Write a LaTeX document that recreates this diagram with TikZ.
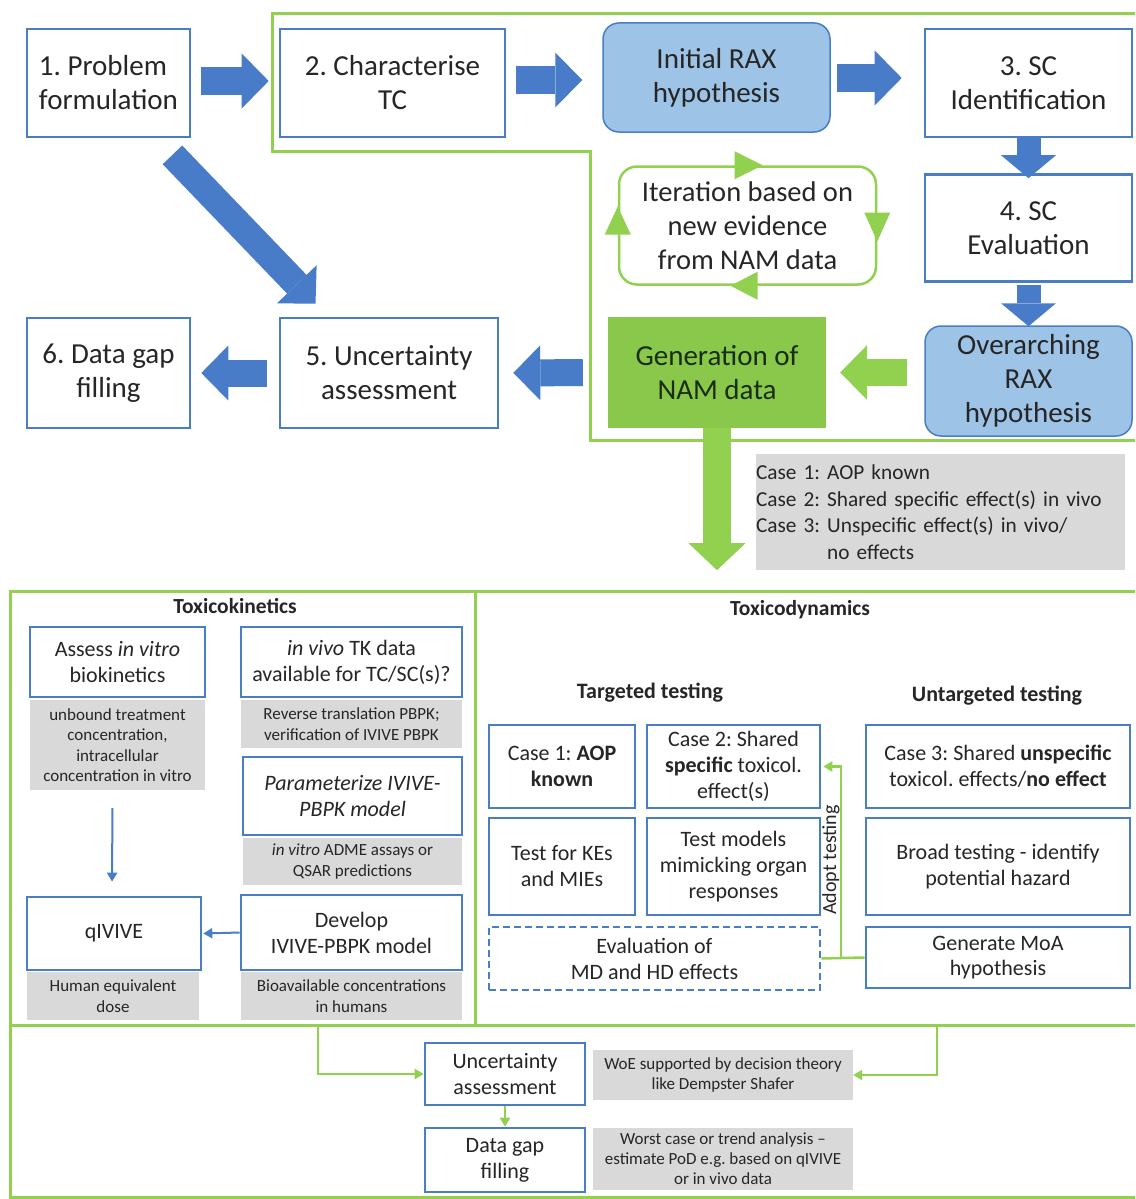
\documentclass[tikz,border=0pt]{standalone}
\usepackage{fontspec}
\setmainfont{Carlito}
\usetikzlibrary{arrows.meta,calc}
\definecolor{bblue}{RGB}{74,126,196}
\definecolor{ablue}{RGB}{72,124,200}
\definecolor{lblue}{RGB}{157,195,230}
\definecolor{gr}{RGB}{146,208,80}
\definecolor{namg}{RGB}{137,200,75}
\definecolor{greyf}{RGB}{217,217,217}
\definecolor{txt}{RGB}{38,38,38}
\frenchspacing
\begin{document}
\begin{tikzpicture}[x=1pt,y=-1pt,
  every node/.style={inner sep=0pt, align=center, text=txt},
  bx/.style={draw=bblue, line width=2.6pt, fill=white},
  bxd/.style={bx, dashed, dash pattern=on 7pt off 4pt},
  big/.style={font=\fontsize{29}{34}\selectfont},
  mid/.style={font=\fontsize{22}{26}\selectfont},
  sm/.style={font=\fontsize{17}{20.5}\selectfont},
  tiny/.style={font=\fontsize{17}{20}\selectfont},
  hd/.style={font=\bfseries\fontsize{21.5}{24}\selectfont},
  gb/.style={fill=greyf},
  rax/.style={draw=bblue, line width=1.5pt, fill=lblue, rounded corners=16pt},
  barrow/.style={draw=ablue, line width=27pt, -{Triangle[length=27pt,width=55pt,line width=0pt]}},
  dbarrow/.style={draw=ablue, line width=24pt, -{Triangle[length=23pt,width=55pt,line width=0pt]}},
  gbarrow/.style={draw=gr, line width=27pt, -{Triangle[length=27pt,width=55pt,line width=0pt]}},
  gline/.style={draw=gr, line width=2.5pt},
  garrow/.style={gline, -{Triangle[length=9pt,width=10pt]}},
  tkarrow/.style={draw=bblue, line width=2pt, -{Triangle[length=9pt,width=10pt]}},
]
\useasboundingbox (0,0) rectangle (1135,1199);
\fill[white] (0,0) rectangle (1135,1199);

% ---------- green region (top) ----------
\draw[gr, line width=3pt] (1135,14) -- (272,14) -- (272,151) -- (590,151) -- (590,440) -- (1135,440);

% ---------- top nodes ----------
\node[bx,big,align=left,minimum width=163,minimum height=108] (b1) at (108.5,83) {1. Problem\\formulation};
\node[bx,big,minimum width=225,minimum height=108] (b2) at (392.5,83) {2. Characterise\\TC};
\node[rax,big,minimum width=227,minimum height=109] (rax1) at (716.5,77.5) {Initial RAX\\hypothesis};
\node[bx,big,minimum width=207,minimum height=108] (b3) at (1028.5,83) {3. SC\\Identification};
\node[bx,big,minimum width=207,minimum height=107] (b4) at (1028.5,228) {4. SC\\Evaluation};
\node[rax,big,minimum width=207,minimum height=110] (rax2) at (1028.5,381) {Overarching\\RAX\\hypothesis};
\node[fill=namg,big,text={rgb,255:red,25;green,45;blue,15},minimum width=218,minimum height=111] (nam) at (717,372.5) {Generation of\\NAM data};
\node[draw=gr,line width=2.5pt,fill=white,rounded corners=18pt,font=\fontsize{28.5}{34}\selectfont,minimum width=257,minimum height=118] (iter) at (747.5,225.5) {Iteration based on\\new evidence\\from NAM data};
\node[bx,big,minimum width=218,minimum height=110] (b5) at (389,373) {5. Uncertainty\\assessment};
\node[bx,big,minimum width=163,minimum height=110] (b6) at (108.5,373) {6. Data gap\\filling};
\node[gb,font=\fontsize{21.3}{26.5}\selectfont,align=left,text width=369,minimum height=116] (cases) at (940.5,512) {Case 1: AOP known\\Case 2: Shared specific effect(s) in vivo\\Case 3: Unspecific effect(s) in vivo/\\\phantom{Case 3: }no effects};

% iteration loop arrowheads
\fill[gr] ([xshift=15]iter.north) -- ([xshift=-13,yshift=14]iter.north) -- ([xshift=-13,yshift=-14]iter.north) -- cycle;
\fill[gr] ([yshift=-16]iter.east) -- ([xshift=-13,yshift=13]iter.east) -- ([xshift=13,yshift=13]iter.east) -- cycle;
\fill[gr] ([xshift=-17]iter.south) -- ([xshift=10,yshift=14]iter.south) -- ([xshift=10,yshift=-14]iter.south) -- cycle;
\fill[gr] ([yshift=19]iter.west) -- ([xshift=-13,yshift=-9]iter.west) -- ([xshift=13,yshift=-9]iter.west) -- cycle;

% ---------- top block arrows ----------
\draw[barrow, shorten <=10pt, shorten >=10pt] (b1.east |- 0,81) -- (b2.west |- 0,81);
\draw[barrow, shorten <=10pt, shorten >=20pt] (b2.east |- 0,80) -- (rax1.west |- 0,80);
\draw[barrow, shorten <=6pt, shorten >=22pt] (rax1.east |- 0,78) -- (b3.west |- 0,78);
\draw[dbarrow, shorten >=-5pt] (b3.south) -- (b4.north);
\draw[dbarrow, shorten <=2pt, shorten >=-1pt] (b4.south) -- (rax2.north);
\draw[gbarrow, shorten <=17pt, shorten >=14pt] (rax2.west |- nam.east) -- (nam.east);
\draw[barrow, shorten <=25pt, shorten >=14pt] (nam.west) -- (b5.east);
\draw[barrow, shorten <=12pt, shorten >=10pt] (b5.west) -- (b6.east);
\draw[barrow, shorten <=23pt, shorten >=18pt] ([xshift=48]b1.south) -- ([xshift=-61]b5.north);
\coordinate (namtip) at ($(nam.south)+(0,142)$);
\draw[gbarrow, line width=28pt, -{Triangle[length=27pt,width=57pt,line width=0pt]}] (nam.south) -- (namtip);

% ---------- bottom frame ----------
\draw[gr, line width=3pt] (1135,591) -- (10,591) -- (10,1197) -- (1135,1197);
\draw[gr, line width=3pt] (10,1025) -- (1135,1025);
\draw[gr, line width=3pt] (475,591) -- (475,1025);

% ---------- toxicokinetics ----------
\node[hd] (tkh) at (235,606) {Toxicokinetics};
\node[bx,mid,minimum width=175,minimum height=70] (tk1) at (117.5,662) {Assess \textit{in vitro}\\biokinetics};
\node[gb,sm,minimum width=175,minimum height=90] (g1) at (117.5,745) {unbound treatment\\concentration,\\intracellular\\concentration in vitro};
\node[bx,mid,minimum width=221,minimum height=70] (tk2) at (351.5,662) {\textit{in vivo} TK data\\available for TC/SC(s)?};
\node[gb,sm,minimum width=221,minimum height=48] (g2) at (351.5,724) {Reverse translation PBPK;\\verification of IVIVE PBPK};
\node[bx,font=\itshape\fontsize{22}{26}\selectfont,minimum width=219,minimum height=78] (tk3) at (352.5,796) {Parameterize IVIVE-\\PBPK model};
\node[gb,sm,minimum width=219,minimum height=47] (g3) at (352.5,861.5) {\textit{in vitro} ADME assays or\\QSAR predictions};
\node[bx,mid,minimum width=174,minimum height=73] (tk4) at (114,933.5) {qIVIVE};
\node[gb,sm,minimum width=172,minimum height=48] (g4) at (113,996) {Human equivalent\\dose};
\node[bx,mid,minimum width=221,minimum height=75] (tk5) at (351.5,932.5) {Develop\\IVIVE-PBPK model};
\node[gb,sm,minimum width=221,minimum height=48] (g5) at (351.5,996) {Bioavailable concentrations\\in humans};
\draw[tkarrow, shorten <=18pt, shorten >=14pt] ([xshift=-5]g1.south) -- ([xshift=-2]tk4.north);
\draw[tkarrow, shorten >=1pt] (tk5.west) -- (tk4.east);

% ---------- toxicodynamics ----------
\node[hd] (tdh) at (800,610) {Toxicodynamics};
\node[hd,font=\bfseries\fontsize{22}{24}\selectfont] (tth) at (650,693) {Targeted testing};
\node[hd,font=\bfseries\fontsize{22}{24}\selectfont] (uth) at (997,696) {Untargeted testing};
\node[bx,mid,minimum width=146,minimum height=83] (c1) at (562,766.5) {Case 1: \textbf{AOP}\\\textbf{known}};
\node[bx,mid,minimum width=173,minimum height=83] (c2) at (733.5,766.5) {Case 2: Shared\\\textbf{specific} toxicol.\\effect(s)};
\node[bx,mid,minimum width=146,minimum height=97] (t1) at (562,866.5) {Test for KEs\\and MIEs};
\node[bx,mid,minimum width=173,minimum height=97] (t2) at (733.5,866.5) {Test models\\mimicking organ\\responses};
\node[bxd,mid,minimum width=331,minimum height=63] (ev) at (654.5,958.5) {Evaluation of\\MD and HD effects};
\node[bx,mid,minimum width=264,minimum height=83] (c3) at (998,766.5) {Case 3: Shared \textbf{unspecific}\\toxicol. effects/\textbf{no effect}};
\node[bx,mid,minimum width=264,minimum height=97] (bt) at (998,866.5) {Broad testing - identify\\potential hazard};
\node[bx,mid,font=\fontsize{22}{25}\selectfont,minimum width=264,minimum height=61] (gm) at (998,957.5) {Generate MoA\\hypothesis};
\coordinate (jn) at (841,958);
\draw[gline] (gm.west) -- (jn) -- (ev.east);
\draw[garrow] (jn) |- ([xshift=2]c2.east);
\node[rotate=90,font=\fontsize{20}{22}\selectfont] (adopt) at (831,860) {Adopt testing};

% ---------- final steps ----------
\node[bx,mid,minimum width=160,minimum height=62] (ua) at (505,1074) {Uncertainty\\assessment};
\node[gb,tiny,minimum width=260,minimum height=50] (woe) at (723,1075) {WoE supported by decision theory\\like Dempster Shafer};
\node[bx,mid,minimum width=160,minimum height=64] (dg) at (505,1160) {Data gap\\filling};
\node[gb,tiny,minimum width=260,minimum height=62] (wc) at (723,1159) {Worst case or trend analysis --\\estimate PoD e.g. based on qIVIVE\\or in vivo data};
\coordinate (lft) at (318,1025);
\coordinate (rgt) at (937,1025);
\draw[garrow] (lft) |- (ua.west);
\draw[garrow] (rgt) |- (woe.east);
\draw[garrow] (ua.south) -- (dg.north);
\end{tikzpicture}
\end{document}
